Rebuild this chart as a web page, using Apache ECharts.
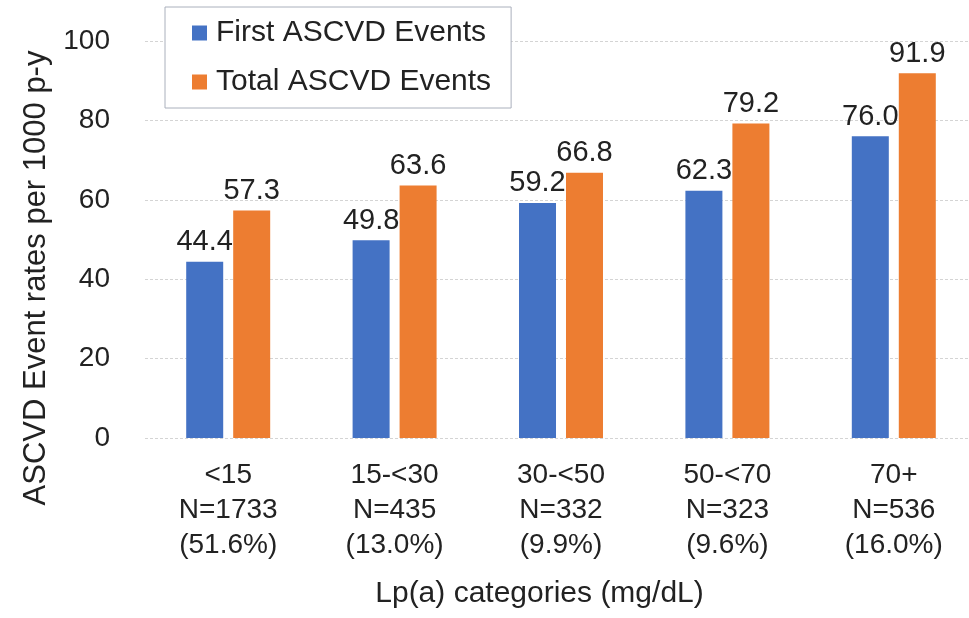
<!DOCTYPE html>
<html>
<head>
<meta charset="utf-8">
<script src="https://cdn.jsdelivr.net/npm/echarts@6/dist/echarts.min.js"></script>
<style>html,body{margin:0;padding:0;background:#fff;overflow:hidden;}#c{width:977px;height:618px;}</style>
</head>
<body>
<div id="c"></div>
<script>
const categories = ["<15\nN=1733\n(51.6%)", "15-<30\nN=435\n(13.0%)", "30-<50\nN=332\n(9.9%)", "50-<70\nN=323\n(9.6%)", "70+\nN=536\n(16.0%)"];
const firstEvents = [44.4, 49.8, 59.2, 62.3, 76.0];
const totalEvents = [57.3, 63.6, 66.8, 79.2, 91.9];
const seriesNames = ["First ASCVD Events", "Total ASCVD Events"];
const yTicks = [0, 20, 40, 60, 80, 100];

const FONT = "Arial, 'Liberation Sans', sans-serif";
const TXT = "#222222";
const chart = echarts.init(document.getElementById('c'), null, {renderer: 'canvas'});
const labelCfg = {
  show: true, position: 'top', distance: 5,
  fontFamily: FONT, fontSize: 29, color: TXT,
  formatter: p => p.value.toFixed(1)
};
chart.setOption({
  animation: false,
  backgroundColor: '#ffffff',
  grid: {left: 145, top: 41, right: 0, height: 397, containLabel: false},
  legend: {
    orient: 'vertical', left: 165, top: 7,
    padding: [11, 20, 11, 27], itemGap: 19,
    itemWidth: 15, itemHeight: 15, icon: 'rect',
    backgroundColor: '#ffffff', borderColor: '#aab0bc', borderWidth: 1,
    textStyle: {fontFamily: FONT, fontSize: 30, color: TXT, lineHeight: 30, padding: [0, 0, 0, 4]},
    data: seriesNames
  },
  xAxis: {
    type: 'category', data: categories,
    axisLine: {show: false}, axisTick: {show: false},
    axisLabel: {fontFamily: FONT, fontSize: 28, color: TXT, lineHeight: 35, margin: 20, interval: 0},
    name: 'Lp(a) categories (mg/dL)', nameLocation: 'middle', nameGap: 141,
    nameTextStyle: {fontFamily: FONT, fontSize: 30, color: TXT, padding: [0, 43, 0, 0]}
  },
  yAxis: {
    type: 'value', min: yTicks[0], max: yTicks[yTicks.length - 1], interval: 20,
    axisLine: {show: false}, axisTick: {show: false},
    axisLabel: {fontFamily: FONT, fontSize: 28, color: TXT, margin: 35},
    splitLine: {show: true, lineStyle: {color: '#d4d4d4', width: 1, type: [3, 2]}},
    name: 'ASCVD Event rates per 1000 p-y', nameLocation: 'middle', nameGap: 93,
    nameTextStyle: {fontFamily: FONT, fontSize: 31, color: TXT, padding: [0, 77, 0, 0]}
  },
  series: [
    {name: seriesNames[0], type: 'bar', data: firstEvents, barWidth: 37, barGap: '27%',
     itemStyle: {color: '#4472C4'}, label: labelCfg},
    {name: seriesNames[1], type: 'bar', data: totalEvents, barWidth: 37, barGap: '27%',
     itemStyle: {color: '#ED7D31'}, label: labelCfg}
  ]
});
</script>
</body>
</html>
